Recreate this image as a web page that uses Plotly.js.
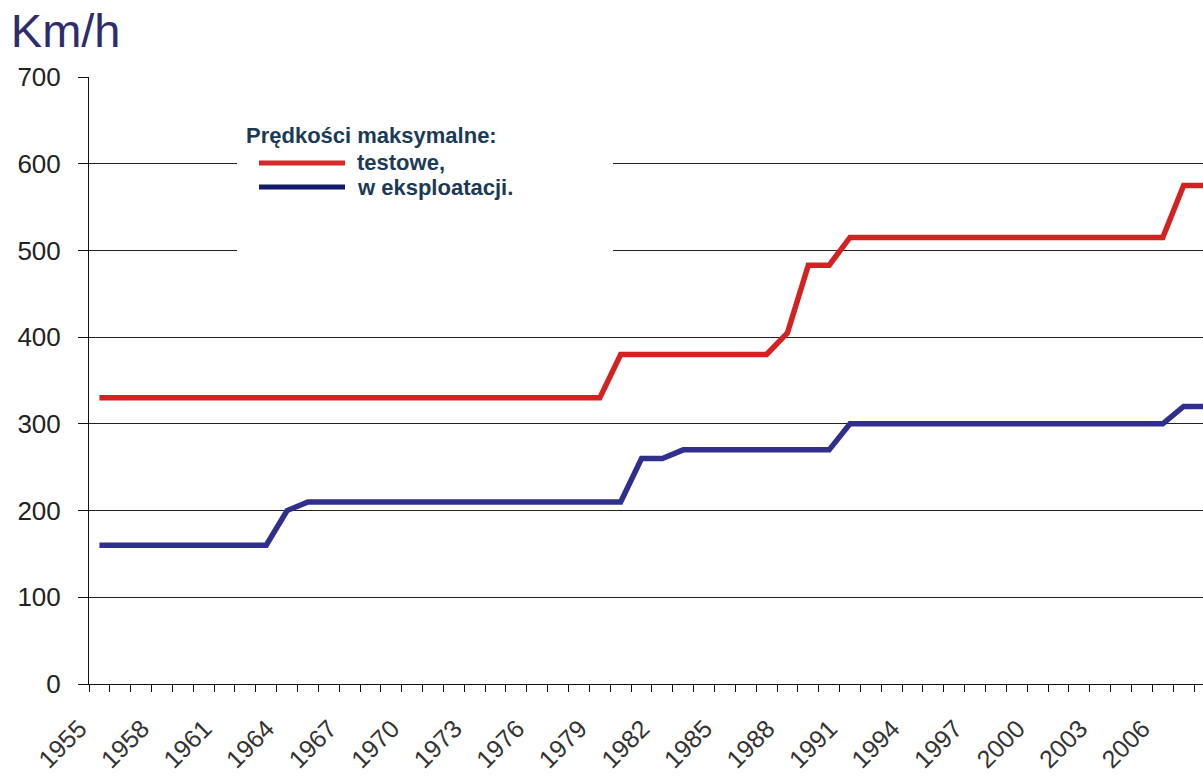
<!DOCTYPE html>
<html>
<head>
<meta charset="utf-8">
<script src="https://cdn.plot.ly/plotly-3.0.1.min.js"></script>
<style>html,body{margin:0;padding:0;background:#fff;}#chart{width:1203px;height:778px;}</style>
</head>
<body>
<div id="chart"></div>
<script>
// ---- data ----
const years = [1955,1956,1957,1958,1959,1960,1961,1962,1963,1964,1965,1966,1967,1968,1969,1970,
  1971,1972,1973,1974,1975,1976,1977,1978,1979,1980,1981,1982,1983,1984,1985,1986,1987,1988,1989,1990,
  1991,1992,1993,1994,1995,1996,1997,1998,1999,2000,2001,2002,2003,2004,2005,2006,2007,2008];
// test maximum speeds (km/h)
const testowe = [330,330,330,330,330,330,330,330,330,330,330,330,330,330,330,330,
  330,330,330,330,330,330,330,330,330,380,380,380,380,380,380,380,380,405,483,483,
  515,515,515,515,515,515,515,515,515,515,515,515,515,515,515,515,575,575];
// operating maximum speeds (km/h)
const eksploatacja = [160,160,160,160,160,160,160,160,160,200,210,210,210,210,210,210,
  210,210,210,210,210,210,210,210,210,210,260,260,270,270,270,270,270,270,270,270,
  300,300,300,300,300,300,300,300,300,300,300,300,300,300,300,300,320,320];
const tickYears = [1955,1958,1961,1964,1967,1970,1973,1976,1979,1982,1985,1988,1991,1994,1997,2000,2003,2006];
const tickLabels = ["1955","1958","1961","1964","1967","1970","1973","1976","1979","1982","1985","1988","1991","1994","1997","2000","2003","2006"];
const legendTitle = "Prędkości maksymalne:";
const seriesNames = ["testowe,", "w eksploatacji."];
const yTitle = "Km/h";

const RED = '#d42222', BLUE = '#30308c';
const FONT = 'Liberation Sans, Arial, sans-serif';

// pixel helpers for the plot area (layout in px)
const W = 1203, H = 778, L = 89, R = 0, T = 77, B = 94;
const pw = W - L - R, ph = H - T - B;
const px = v => (v - L) / pw;
const py = v => (H - B - v) / ph;

const traces = [
  {x: years, y: testowe, type: 'scatter', mode: 'lines', name: seriesNames[0],
   line: {color: RED, width: 5.5}, showlegend: false, hoverinfo: 'x+y'},
  {x: years, y: eksploatacja, type: 'scatter', mode: 'lines', name: seriesNames[1],
   line: {color: BLUE, width: 5.5}, showlegend: false, hoverinfo: 'x+y'}
];

const legendColor = '#1c3a56';
const layout = {
  width: W, height: H,
  margin: {l: L, r: R, t: T, b: B, pad: 0},
  paper_bgcolor: '#ffffff', plot_bgcolor: '#ffffff',
  font: {family: FONT, color: '#222'},
  title: {text: yTitle, font: {family: FONT, size: 47, color: '#2e2c6c'},
          xref: 'container', yref: 'container', x: 0.009, xanchor: 'left', y: 0.982, yanchor: 'top'},
  xaxis: {
    type: 'linear', range: [1954.5, 2007.93],
    tickmode: 'array', tickvals: tickYears, ticktext: tickLabels,
    tickangle: -45, ticks: '', tickfont: {family: FONT, size: 25, color: '#333'},
    ticklabelshift: -20, ticklabelstandoff: 19,
    showline: true, linecolor: '#111', linewidth: 1,
    showgrid: false, zeroline: false,
    minor: {tickmode: 'linear', tick0: 1954.5, dtick: 1, ticks: 'outside', ticklen: 7,
            tickcolor: '#111', tickwidth: 1, showgrid: false}
  },
  yaxis: {
    range: [0, 700], tickmode: 'linear', tick0: 0, dtick: 100,
    ticks: 'outside', ticklen: 10, tickcolor: '#111', tickwidth: 1,
    tickfont: {family: FONT, size: 26, color: '#222'}, ticklabelstandoff: 12,
    showline: true, linecolor: '#111', linewidth: 1,
    showgrid: true, gridcolor: '#222', gridwidth: 1, zeroline: false
  },
  shapes: [
    {type: 'rect', xref: 'paper', yref: 'paper', x0: px(237), x1: px(613), y0: py(300), y1: py(108),
     fillcolor: '#ffffff', line: {width: 0}, layer: 'above'},
    {type: 'line', xref: 'paper', yref: 'paper', x0: px(259), x1: px(345), y0: py(163), y1: py(163),
     line: {color: '#d42a2a', width: 5}, layer: 'above'},
    {type: 'line', xref: 'paper', yref: 'paper', x0: px(259), x1: px(345), y0: py(187), y1: py(187),
     line: {color: '#121a6c', width: 5}, layer: 'above'}
  ],
  annotations: [
    {text: '<b>' + legendTitle + '</b>', xref: 'paper', yref: 'paper', x: px(244), y: py(135.5),
     xanchor: 'left', yanchor: 'middle', showarrow: false, font: {family: FONT, size: 22, color: legendColor}},
    {text: '<b>' + seriesNames[0] + '</b>', xref: 'paper', yref: 'paper', x: px(355), y: py(162),
     xanchor: 'left', yanchor: 'middle', showarrow: false, font: {family: FONT, size: 22, color: legendColor}},
    {text: '<b>' + seriesNames[1] + '</b>', xref: 'paper', yref: 'paper', x: px(355), y: py(187),
     xanchor: 'left', yanchor: 'middle', showarrow: false, font: {family: FONT, size: 22, color: legendColor}}
  ]
};

Plotly.newPlot('chart', traces, layout, {displayModeBar: false, staticPlot: true});
</script>
</body>
</html>
